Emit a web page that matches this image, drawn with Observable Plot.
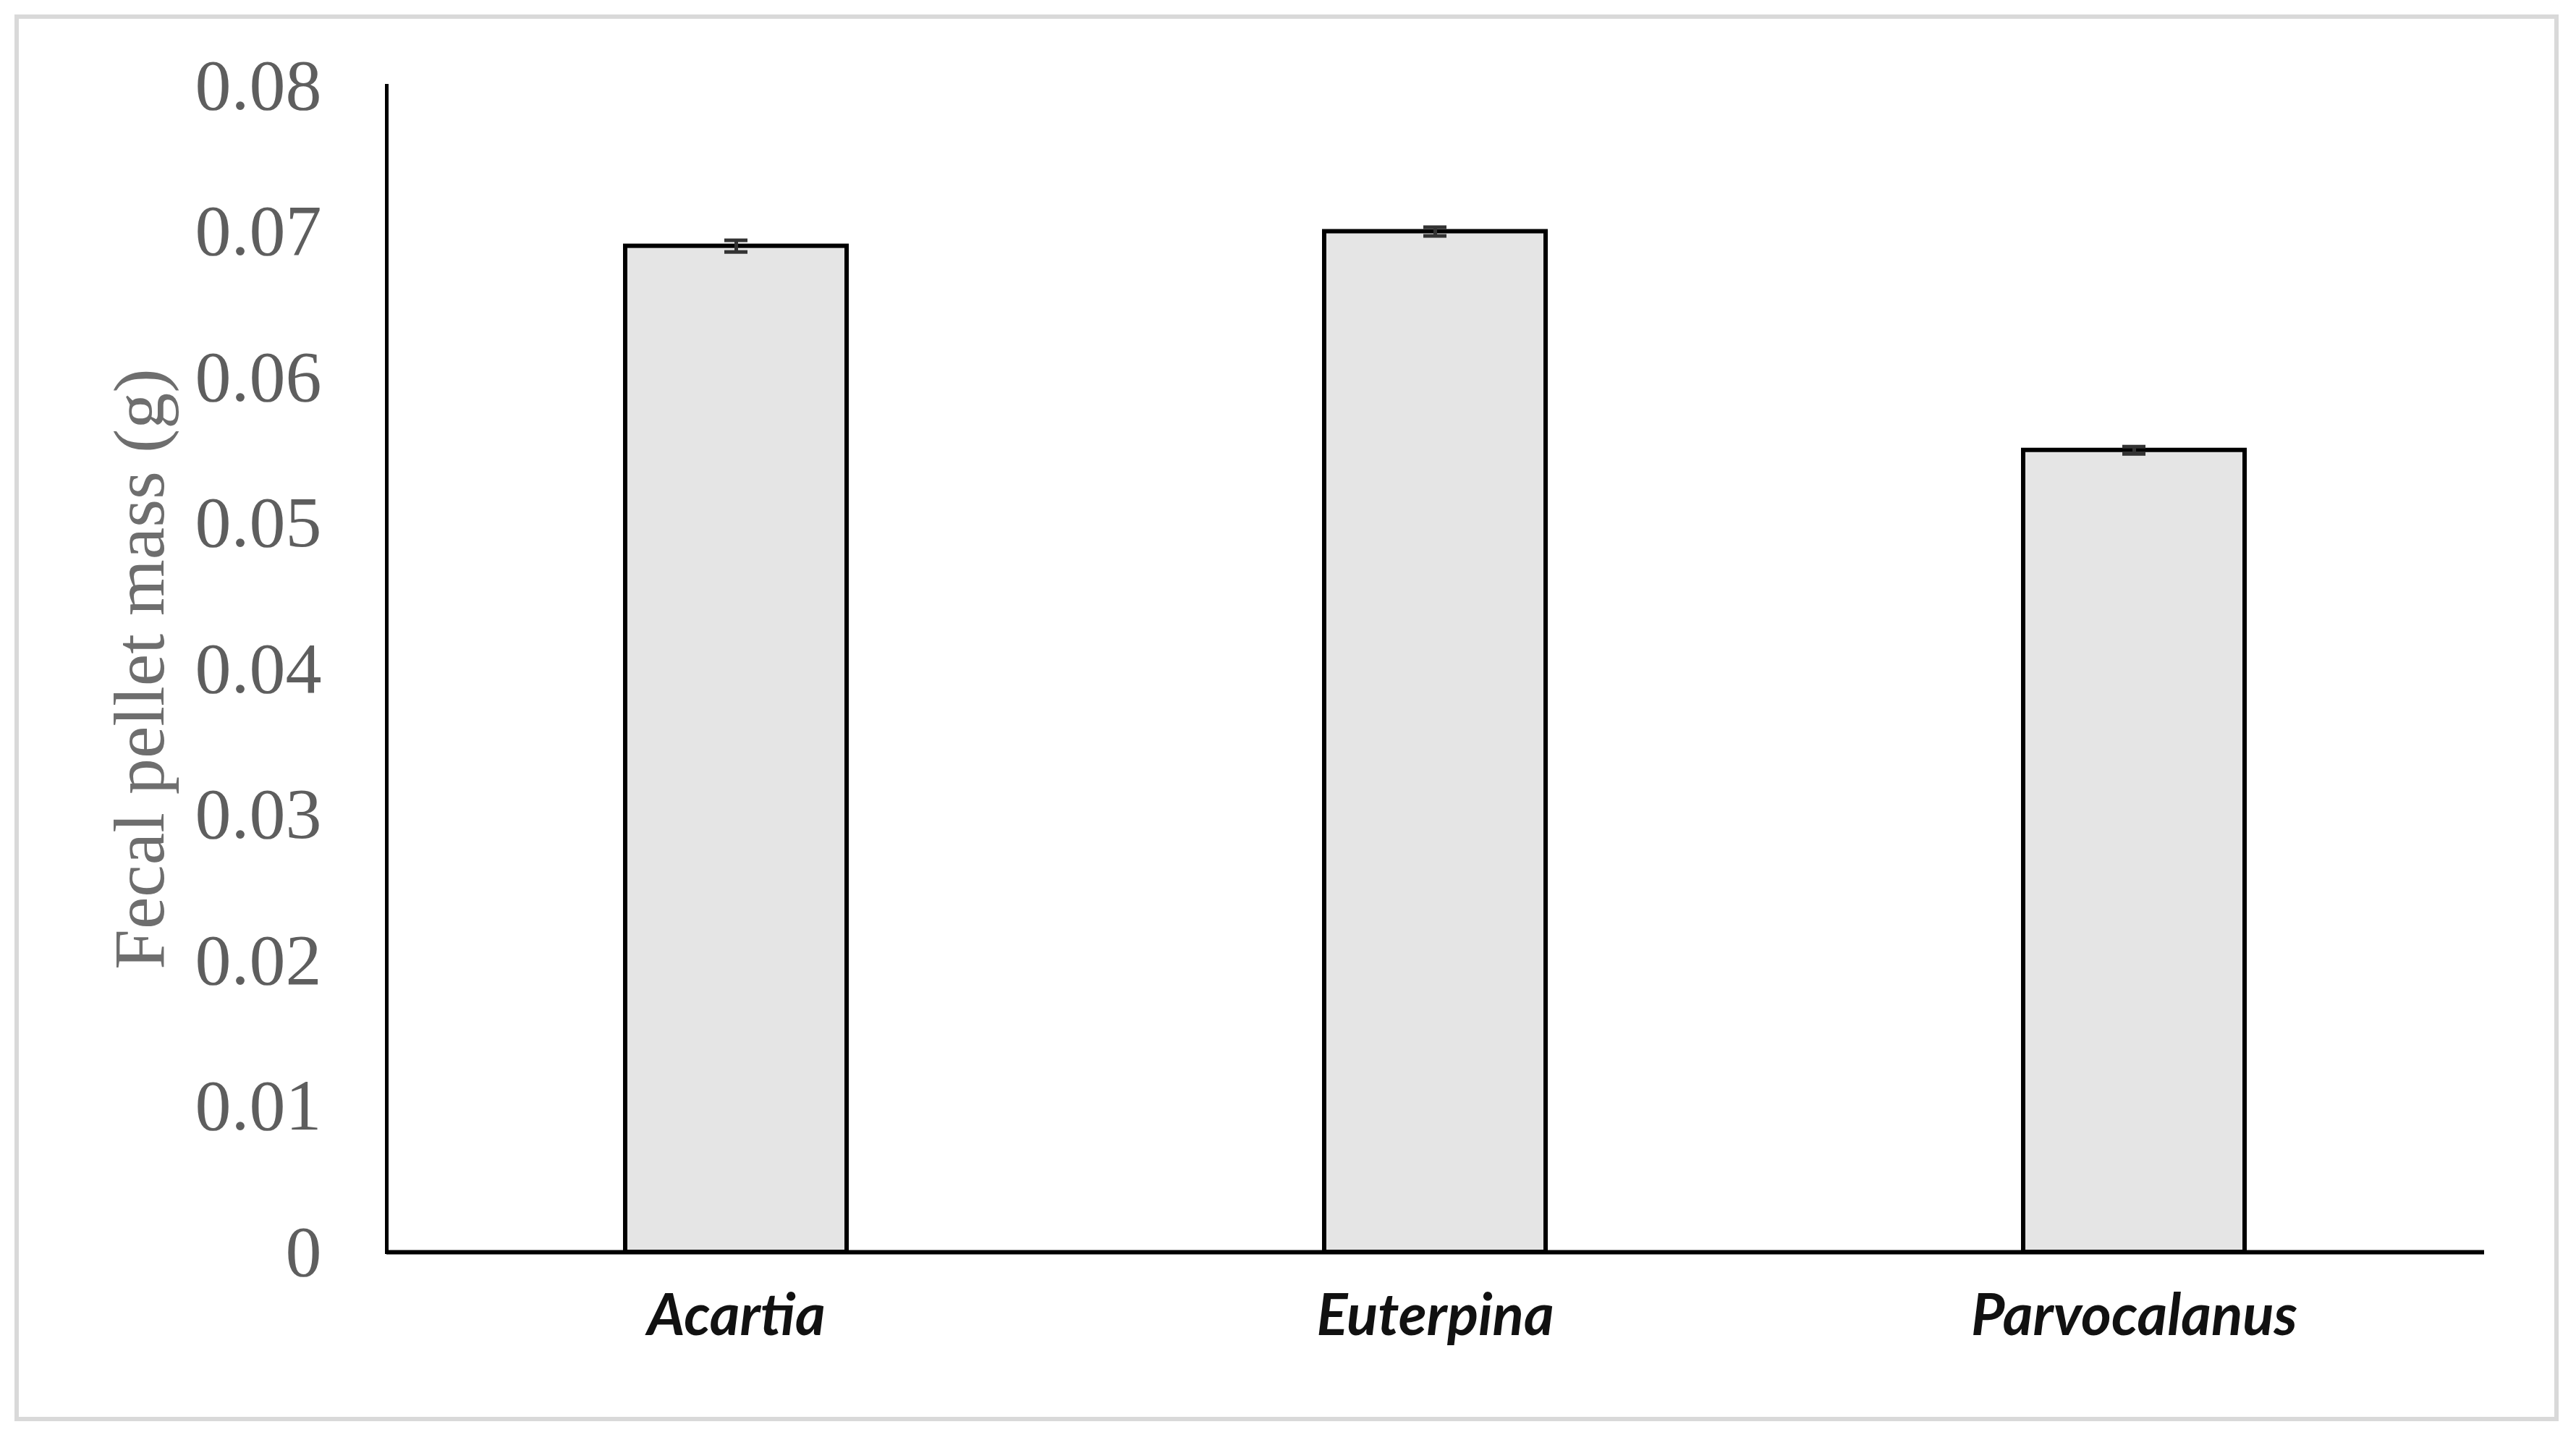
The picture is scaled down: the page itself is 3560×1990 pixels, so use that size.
<!DOCTYPE html>
<html>
<head>
<meta charset="utf-8">
<script src="https://cdn.jsdelivr.net/npm/d3@7"></script>
<script src="https://cdn.jsdelivr.net/npm/@observablehq/plot@0.6"></script>
<style>
  html, body { margin: 0; padding: 0; background: #fff; }
  #wrap { position: relative; width: 3560px; height: 1990px; }
  #frame { position: absolute; left: 20px; top: 20px; width: 3504px; height: 1932px;
           border: 6px solid #d9d9d9; pointer-events: none; }
</style>
</head>
<body>
<div id="wrap"><div id="frame"></div></div>
<script>
const categories = ["Acartia", "Euterpina", "Parvocalanus"];
const values = [0.069, 0.070, 0.055];
const errors = [0.0004, 0.0003, 0.00025];
const yTicks = [0, 0.01, 0.02, 0.03, 0.04, 0.05, 0.06, 0.07, 0.08];
const yTickLabels = ["0", "0.01", "0.02", "0.03", "0.04", "0.05", "0.06", "0.07", "0.08"];
const yTitle = "Fecal pellet mass (g)";

const data = categories.map((c, i) => ({cat: c, v: values[i], e: errors[i]}));

const chart = Plot.plot({
  width: 3560,
  height: 1990,
  marginLeft: 534,
  marginRight: 127,
  marginTop: 118,
  marginBottom: 260,
  style: {background: "transparent", overflow: "visible"},
  x: {domain: categories, paddingInner: 0.683, paddingOuter: 0.3415, label: null},
  y: {domain: [0, 0.08], label: null},
  marks: [
    Plot.frame({anchor: "left", stroke: "#000", strokeWidth: 5}),
    Plot.barY(data, {x: "cat", y: "v", fill: "#e5e5e5", stroke: "#000", strokeWidth: 6}),
    Plot.ruleX(data, {x: "cat", y1: d => d.v - d.e, y2: d => d.v + d.e, stroke: "#333", strokeWidth: 5}),
    Plot.tickY(data, {x: "cat", y: d => d.v + d.e, stroke: "#333", strokeWidth: 5, insetLeft: 137, insetRight: 137}),
    Plot.tickY(data, {x: "cat", y: d => d.v - d.e, stroke: "#333", strokeWidth: 5, insetLeft: 137, insetRight: 137}),
    Plot.ruleY([0], {stroke: "#000", strokeWidth: 6}),
    Plot.axisY({
      ticks: yTicks,
      tickFormat: (d) => yTickLabels[yTicks.indexOf(d)],
      tickSize: 0,
      tickPadding: 90,
      fontSize: 100,
      fontFamily: "Liberation Serif",
      fill: "#5e5e5e",
      label: null
    }),
    Plot.axisX({
      tickSize: 0,
      tickPadding: 58,
      fontSize: 80,
      fontFamily: "Lato",
      fontStyle: "italic",
      fontWeight: "bold",
      fill: "#111",
      label: null
    }),
    Plot.text([yTitle], {
      frameAnchor: "left",
      dx: -341,
      rotate: -90,
      text: d => d,
      fontSize: 100,
      fontFamily: "Liberation Serif",
      fill: "#6e6e6e",
      textAnchor: "middle",
      lineAnchor: "middle"
    })
  ]
});
chart.style.position = "absolute";
chart.style.left = "0px";
chart.style.top = "0px";
document.getElementById("wrap").appendChild(chart);
</script>
</body>
</html>
